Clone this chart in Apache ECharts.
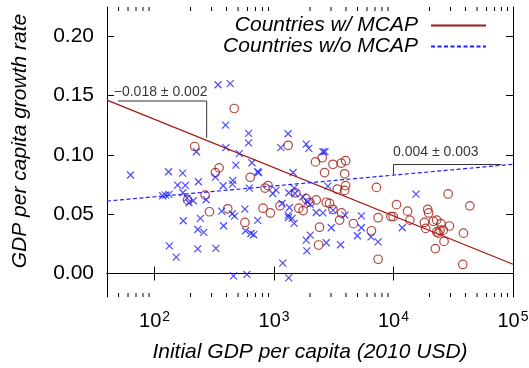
<!DOCTYPE html>
<html>
<head>
<meta charset="utf-8">
<script src="https://cdn.jsdelivr.net/npm/echarts@6/dist/echarts.min.js"></script>
<style>html,body{margin:0;padding:0;background:#fff}#c{width:529px;height:368px}</style>
</head>
<body>
<div id="c"></div>
<script>
// ---- data ----
const mcapPoints = [
  [217,0.107],[464,0.139],[323,0.085],[347,0.089],[265,0.066],[189,0.062],[288,0.052],[410,0.0545],
  [570,0.043],[632,0.081],[840,0.072],[891,0.074],[809,0.055],[932,0.051],[1312,0.108],[1122,0.057],
  [1521,0.068],[1611,0.055],[1753,0.053],[1858,0.063],[1995,0.060],[2254,0.062],[2735,0.060],[2917,0.059],
  [3113,0.054],[2225,0.094],[2530,0.0975],[2648,0.085],[3113,0.092],[3656,0.093],[3975,0.095],[3900,0.084],
  [3975,0.074],[3383,0.071],[3900,0.070],[3680,0.051],[3540,0.045],[4613,0.042],[2404,0.039],[2360,0.024],
  [7194,0.0725],[7430,0.047],[6531,0.036],[7430,0.012],[9504,0.048],[9935,0.048],[10590,0.058],[13110,0.0525],
  [13710,0.045],[18110,0.043],[18580,0.038],[19320,0.054],[19690,0.051],[21540,0.044],[22970,0.045],[24980,0.042],
  [22970,0.035],[23720,0.034],[24490,0.0365],[26120,0.0365],[26480,0.027],[22390,0.021],[29380,0.040],[28640,0.067],
  [43550,0.057],[38480,0.034],[38000,0.0076]
];
const noMcapPoints = [
  [63,0.083],[340,0.159],[430,0.160],[393,0.125],[612,0.118],[612,0.110],[224,0.1026],[395,0.106],
  [512,0.101],[131,0.0857],[172,0.0846],[233,0.0773],[323,0.0812],[375,0.0739],[449,0.0753],[452,0.0784],
  [479,0.0913],[653,0.0933],[729,0.0857],[743,0.0851],[156,0.0745],[181,0.0742],[173,0.068],[117,0.0655],
  [124,0.066],[132,0.0666],[187,0.0635],[194,0.0596],[211,0.0613],[270,0.0621],[621,0.0719],[365,0.0525],
  [447,0.0503],[570,0.0542],[467,0.0483],[174,0.0444],[242,0.0464],[230,0.0371],[258,0.0346],[378,0.0402],
  [578,0.036],[641,0.0337],[675,0.0326],[729,0.0447],[133,0.0233],[152,0.0138],[230,0.0208],[326,0.0211],
  [458,-0.002],[593,-0.0008],[1138,0.106],[1312,0.1177],[1445,0.0851],[1473,0.0719],[1040,0.0702],[975,0.0674],
  [1328,0.068],[1500,0.0674],[1167,0.059],[1345,0.0556],[1312,0.0492],[1417,0.0464],[1473,0.0422],[1320,0.0472],
  [1858,0.109],[1955,0.1054],[2564,0.1026],[2666,0.1026],[2825,0.0736],[1742,0.0646],[1893,0.0604],[2008,0.0582],
  [2254,0.0514],[2564,0.0511],[3113,0.0534],[1858,0.0281],[2008,0.0323],[1882,0.0191],[3013,0.0385],[2735,0.0259],
  [3606,0.0242],[3925,0.0492],[5383,0.0486],[5383,0.0385],[4980,0.0318],[6486,0.0309],[7430,0.0267],[1183,0.0087],
  [1328,-0.0037],[11830,0.0385],[15420,0.0669]
];
const mcapFit = [[40,0.146],[100000,0.0078]];
const noMcapFit = [[40,0.061],[100000,0.092]];
const mcapBracket = [[49.5,0.1453],[273,0.1453],[273,0.1143]];
const noMcapBracket = [[10000,0.0833],[10000,0.0918],[80000,0.0918]];
const mcapSlopeLabel = '\u22120.018 \u00b1 0.002';
const noMcapSlopeLabel = '0.004 \u00b1 0.003';
const mcapLabelPos = [46,0.1526];
const noMcapLabelPos = [10000,0.102];
const yTicks = [0, 0.05, 0.10, 0.15, 0.20];
const xMinorTicks = [50,60,70,80,90,200,300,400,500,600,700,800,900,2000,3000,4000,5000,6000,7000,8000,9000,20000,30000,40000,50000,60000,70000,80000,90000];
const legendNames = ['Countries w/ MCAP','Countries w/o MCAP'];

// ---- chart ----
const FONT = 'Liberation Sans';
const RED = '#a01a12';
const BLUE = '#1f1fff';
const chart = echarts.init(document.getElementById('c'), null, {renderer:'canvas'});
const xCommon = {type:'log', logBase:10, min:40, max:100000, splitLine:{show:false},
  axisLine:{show:true, lineStyle:{color:'#000', width:1}},
  axisTick:{show:true, inside:true, length:7, lineStyle:{color:'#000'}}};
const yCommon = {type:'value', min:-0.0198, max:0.2245, splitLine:{show:false},
  axisLine:{show:true, onZero:false, lineStyle:{color:'#000', width:1}},
  axisTick:{show:true, inside:true, length:7, customValues:yTicks, lineStyle:{color:'#000'}}};
const supFmt = v => {
  const e = Math.log10(v);
  if (Math.abs(e - Math.round(e)) > 1e-6) return '';
  return '{b|10}{s|' + Math.round(e) + '}';
};
const option = {
  animation:false,
  grid:{left:107, right:16, top:7, bottom:71, containLabel:false, outerBoundsMode:'none'},
  legend:{
    data:legendNames, orient:'vertical', right:37, top:10, align:'right',
    itemWidth:55, itemHeight:20, itemGap:0,
    itemStyle:{color:'rgba(0,0,0,0)', borderWidth:0, borderColor:'rgba(0,0,0,0)'},
    textStyle:{fontFamily:FONT, fontSize:21, fontStyle:'italic', color:'#000', padding:[0,8,0,0]},
    selectedMode:false
  },
  xAxis:[
    Object.assign({}, xCommon, {position:'bottom',
      name:'Initial GDP per capita (2010 USD)', nameLocation:'middle', nameGap:45,
      nameTextStyle:{fontFamily:FONT, fontSize:21, fontStyle:'italic', color:'#000'},
      axisLabel:{show:true, margin:13, showMinLabel:false, formatter:supFmt,
        rich:{b:{fontFamily:FONT, fontSize:20, color:'#000'}, s:{fontFamily:FONT, fontSize:14, color:'#000', verticalAlign:'top', padding:[0,0,8,1]}}}}),
    Object.assign({}, xCommon, {position:'top', axisLabel:{show:false}})
  ],
  yAxis:[
    Object.assign({}, yCommon, {position:'left',
      name:'GDP per capita growth rate', nameLocation:'middle', nameGap:76,
      nameTextStyle:{fontFamily:FONT, fontSize:21, fontStyle:'italic', color:'#000', padding:[0,0,0,22]},
      axisLabel:{show:true, margin:13, customValues:yTicks, formatter:v => v.toFixed(2),
        fontFamily:FONT, fontSize:21, color:'#000'}}),
    Object.assign({}, yCommon, {position:'right', axisLabel:{show:false}})
  ],
  series:[
    {type:'custom', name:'minorTicks', silent:true, clip:false, z:5,
      data:xMinorTicks.map(v => [v, 0.1]),
      renderItem:(params, api) => {
        const cs = params.coordSys;
        const x = api.coord([api.value(0), api.value(1)])[0];
        const yb = cs.y + cs.height;
        return {type:'group', children:[
          {type:'line', shape:{x1:x, y1:yb, x2:x, y2:yb-4}, style:{stroke:'#000', lineWidth:1}},
          {type:'line', shape:{x1:x, y1:cs.y, x2:x, y2:cs.y+4}, style:{stroke:'#000', lineWidth:1}}
        ]};
      }},
    {type:'scatter', name:'mcapPts', data:mcapPoints, symbol:'circle', symbolSize:8.5, z:3,
      itemStyle:{color:'rgba(0,0,0,0)', borderColor:RED, borderWidth:1.2}},
    {type:'scatter', name:'noMcapPts', data:noMcapPoints, symbol:'path://M0,0L10,10M10,0L0,10', symbolSize:7, z:3,
      itemStyle:{color:'rgba(0,0,0,0)', borderColor:BLUE, borderWidth:1.2}},
    {type:'line', name:legendNames[0], data:mcapFit, symbol:'none', z:4,
      lineStyle:{color:RED, width:1.3}, itemStyle:{color:RED}},
    {type:'line', name:legendNames[1], data:noMcapFit, symbol:'none', z:4,
      lineStyle:{color:BLUE, width:1.2, type:[4,2.5]}, itemStyle:{color:BLUE}},
    {type:'line', name:'b1', data:mcapBracket, symbol:'none', z:4, silent:true,
      lineStyle:{color:'#333', width:1}},
    {type:'line', name:'b2', data:noMcapBracket, symbol:'none', z:4, silent:true,
      lineStyle:{color:'#333', width:1}},
    {type:'scatter', name:'labels', silent:true, symbolSize:1, z:6,
      itemStyle:{color:'rgba(0,0,0,0)'},
      data:[
        {value:mcapLabelPos, label:{formatter:mcapSlopeLabel}},
        {value:noMcapLabelPos, label:{formatter:noMcapSlopeLabel}}
      ],
      label:{show:true, position:[0,0], align:'left', verticalAlign:'middle',
        fontFamily:FONT, fontSize:14, color:'#000'}}
  ]
};
chart.setOption(option);
</script>
</body>
</html>
